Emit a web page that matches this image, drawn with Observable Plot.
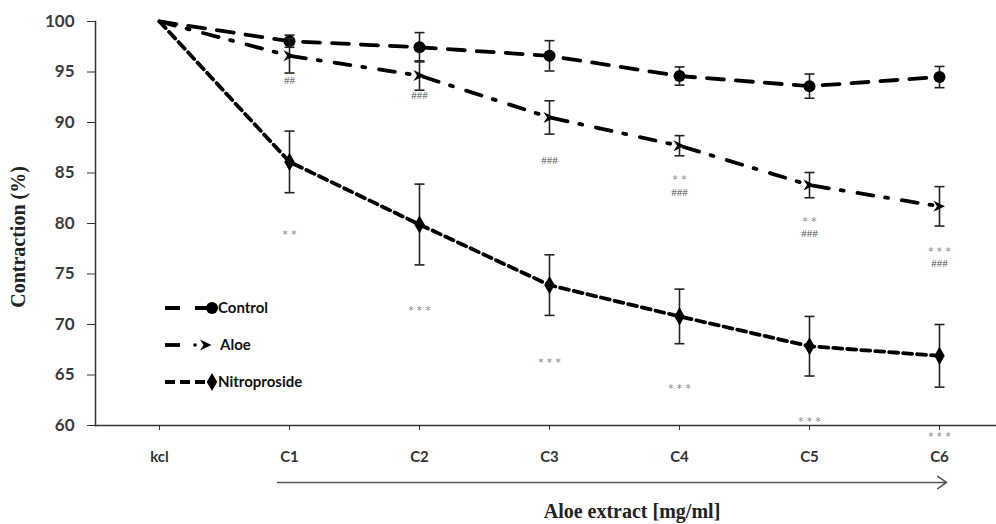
<!DOCTYPE html>
<html>
<head>
<meta charset="utf-8">
<script src="https://cdn.jsdelivr.net/npm/d3@7"></script>
<script src="https://cdn.jsdelivr.net/npm/@observablehq/plot@0.6"></script>
<style>
  html, body { margin: 0; padding: 0; background: #fff; }
  #chart svg { display: block; background: #fff; }
</style>
</head>
<body>
<div id="chart"></div>
<script>
// ---- data ----
const categories = ["kcl", "C1", "C2", "C3", "C4", "C5", "C6"];
const seriesNames = ["Control", "Aloe", "Nitroproside"];
const control    = [100, 98.05, 97.45, 96.6, 94.6, 93.6, 94.5];
const controlErr = [null, 0.6, 1.45, 1.5, 0.9, 1.2, 1.05];
const aloe       = [100, 96.6, 94.65, 90.5, 87.7, 83.8, 81.7];
const aloeErr    = [null, 1.7, 1.45, 1.65, 1.0, 1.25, 1.95];
const nitro      = [100, 86.1, 79.9, 73.9, 70.8, 67.85, 66.9];
const nitroErr   = [null, 3.05, 4.0, 3.0, 2.7, 2.95, 3.1];
const yTicks = [60, 65, 70, 75, 80, 85, 90, 95, 100];

const annotCat  = ["C1", "C2", "C3", "C4", "C4", "C5", "C5", "C6", "C6", "C1", "C2", "C3", "C4", "C5", "C6"];
const annotY    = [94.2, 92.7, 86.2, 84.5, 83.1, 80.4, 79.0, 77.4, 76.0, 79.1, 71.6, 66.4, 63.8, 60.55, 59.1];
const annotText = ["##", "###", "###", "**", "###", "**", "###", "***", "###", "**", "***", "***", "***", "***", "***"];

const xTitle = "Aloe extract [mg/ml]";
const yTitle = "Contraction (%)";

// ---- build tables ----
function table(vals, errs, name) {
  return categories.map((c, i) => ({cat: c, v: vals[i], err: errs[i], series: name}));
}
const dControl = table(control, controlErr, seriesNames[0]);
const dAloe = table(aloe, aloeErr, seriesNames[1]);
const dNitro = table(nitro, nitroErr, seriesNames[2]);
const annots = annotCat.map((c, i) => ({cat: c, y: annotY[i], t: annotText[i]}));

// custom symbols
const capSymbol = {draw(ctx, size) { const r = Math.sqrt(size / Math.PI); ctx.moveTo(-r, 0); ctx.lineTo(r, 0); }};
const chevron = {draw(ctx, size) {
  const r = Math.sqrt(size / Math.PI);
  ctx.moveTo(-r * 1.1, -r); ctx.lineTo(r, 0); ctx.lineTo(-r * 1.1, r); ctx.lineTo(-r * 0.45, 0); ctx.closePath();
}};

const styles = [
  {data: dControl, dash: "17,12", symbol: "circle", r: 6},
  {data: dAloe, dash: "16,12,3,14", symbol: chevron, r: 5.5},
  {data: dNitro, dash: "9,5", symbol: "diamond", r: 5.5}
];

const marks = [];
marks.push(Plot.frame({anchor: "left", stroke: "#333", strokeWidth: 1.5}));
marks.push(Plot.frame({anchor: "bottom", stroke: "#333", strokeWidth: 1.5}));
marks.push(Plot.axisY({ticks: yTicks, tickSize: 8, tickPadding: 13, fontSize: 17, fontWeight: "bold",
  fontFamily: "Lato", fill: "#3a3a3a", stroke: "#333", label: null}));
marks.push(Plot.axisX({tickSize: 5, tickPadding: 21, fontSize: 15, fontWeight: "bold",
  fontFamily: "Lato", fill: "#333", stroke: "#333", label: null}));

for (const s of styles) {
  marks.push(Plot.line(s.data, {x: "cat", y: "v", stroke: "#000", strokeWidth: 3.8, strokeDasharray: s.dash}));
}
for (const s of styles) {
  const eb = s.data.filter(d => d.err != null);
  marks.push(Plot.ruleX(eb, {x: "cat", y1: d => d.v - d.err, y2: d => d.v + d.err, stroke: "#222", strokeWidth: 1.6}));
  marks.push(Plot.dot(eb, {x: "cat", y: d => d.v - d.err, symbol: capSymbol, r: 5, stroke: "#222", strokeWidth: 1.6}));
  marks.push(Plot.dot(eb, {x: "cat", y: d => d.v + d.err, symbol: capSymbol, r: 5, stroke: "#222", strokeWidth: 1.6}));
  marks.push(Plot.dot(eb, {x: "cat", y: "v", symbol: s.symbol, r: s.r, fill: "#000", stroke: "none"}));
}

// significance annotations
marks.push(Plot.text(annots.filter(a => a.t.startsWith("*")), {x: "cat", y: "y", text: d => d.t.split("").join(" "),
  fontSize: 10.5, fill: "#888", fontFamily: "DejaVu Sans", dy: 2}));
marks.push(Plot.text(annots.filter(a => a.t.startsWith("#")), {x: "cat", y: "y", text: "t",
  fontSize: 11, fill: "#555", fontFamily: "Liberation Serif"}));

// bottom arrow
marks.push(Plot.arrow([{a: "C1", b: "C6"}], {x1: "a", x2: "b", y1: () => 54.36, y2: () => 54.36,
  insetStart: -12, insetEnd: -7, stroke: "#555", strokeWidth: 1.6, headLength: 10, headAngle: 70}));

const chart = Plot.plot({
  width: 996,
  height: 524,
  marginLeft: 95,
  marginRight: 0,
  marginTop: 21,
  marginBottom: 99,
  x: {type: "point", domain: categories, range: [158, 939], padding: 0},
  y: {domain: [60, 100]},
  style: {background: "#fff", overflow: "visible"},
  marks
});

const svg = d3.select(chart);

// titles
svg.append("text").attr("x", 632).attr("y", 518).attr("text-anchor", "middle")
  .attr("font-family", "Liberation Serif").attr("font-weight", "bold").attr("font-size", 20)
  .attr("fill", "#222").text(xTitle);
svg.append("text").attr("transform", "translate(25,237) rotate(-90)").attr("text-anchor", "middle")
  .attr("font-family", "Liberation Serif").attr("font-weight", "bold").attr("font-size", 20)
  .attr("fill", "#222").text(yTitle);

// legend overlay
const legendY = [308, 345, 382];
const lg = svg.append("g").attr("fill", "none");
// Control
lg.append("line").attr("x1", 165).attr("x2", 212).attr("y1", legendY[0]).attr("y2", legendY[0])
  .attr("stroke", "#000").attr("stroke-width", 3.8).attr("stroke-dasharray", "15,15");
lg.append("path").attr("d", d3.symbol(d3.symbolCircle, Math.PI * 6 * 6)())
  .attr("transform", `translate(212,${legendY[0]})`).attr("fill", "#000");
// Aloe
lg.append("line").attr("x1", 165).attr("x2", 180).attr("y1", legendY[1]).attr("y2", legendY[1])
  .attr("stroke", "#000").attr("stroke-width", 3.8);
lg.append("circle").attr("cx", 195).attr("cy", legendY[1]).attr("r", 1.8).attr("fill", "#000");
lg.append("path").attr("d", d3.symbol(chevron, Math.PI * 5.5 * 5.5)())
  .attr("transform", `translate(206,${legendY[1]})`).attr("fill", "#000");
// Nitro
lg.append("line").attr("x1", 165).attr("x2", 212).attr("y1", legendY[2]).attr("y2", legendY[2])
  .attr("stroke", "#000").attr("stroke-width", 3.8).attr("stroke-dasharray", "10,5");
lg.append("path").attr("d", d3.symbol(d3.symbolDiamond, Math.PI * 5.5 * 5.5)())
  .attr("transform", `translate(212,${legendY[2]})`).attr("fill", "#000");
const legendX = [218, 220, 218];
seriesNames.forEach((n, i) => {
  lg.append("text").attr("x", legendX[i]).attr("y", legendY[i]).attr("dy", "0.35em")
    .attr("text-anchor", "start")
    .attr("fill", "#111").attr("font-family", "Lato").attr("font-weight", "bold").attr("font-size", 15)
    .text(n);
});

document.getElementById("chart").appendChild(chart);
</script>
</body>
</html>
